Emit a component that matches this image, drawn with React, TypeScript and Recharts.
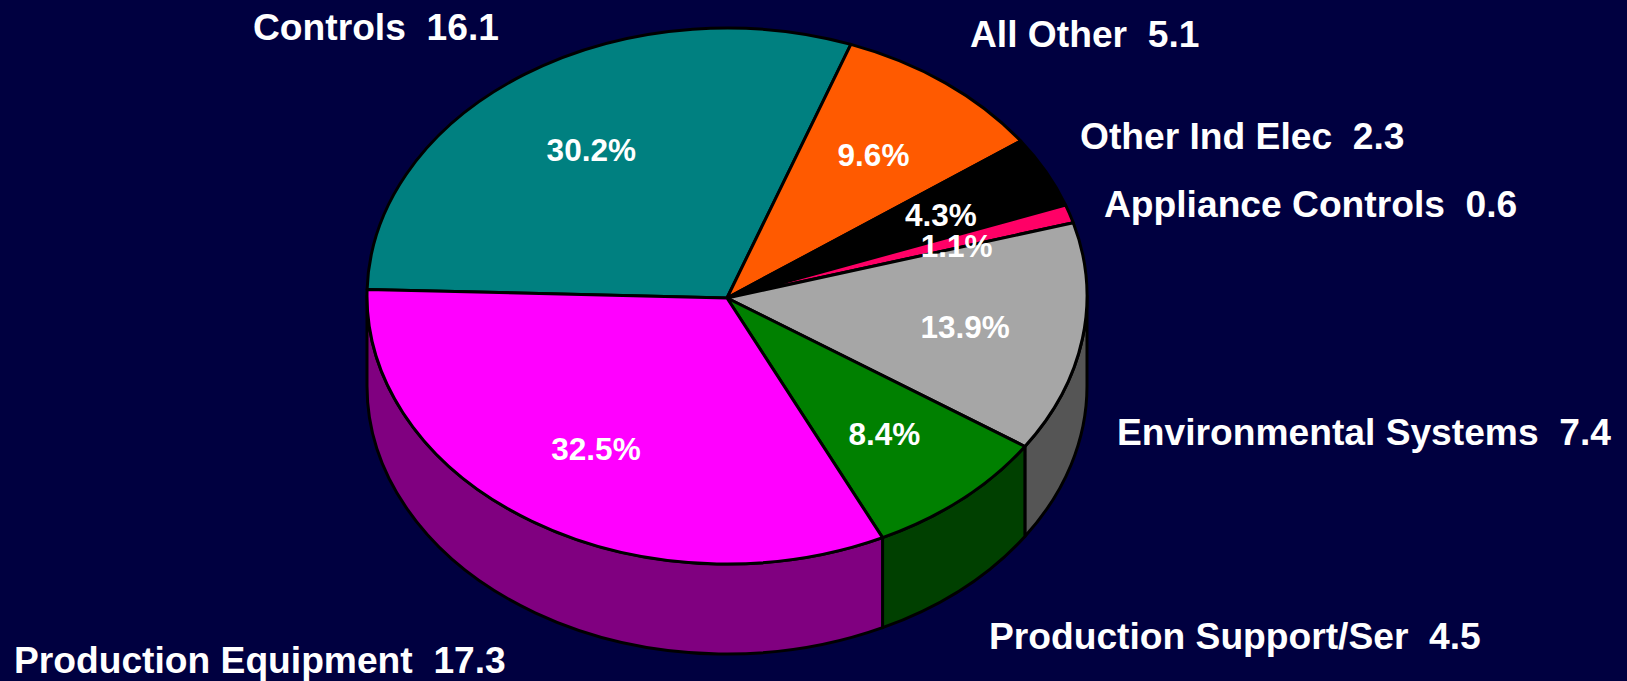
import { PieChart, Pie } from 'recharts';

const names = [
  'Controls',
  'All Other',
  'Other Ind Elec',
  'Appliance Controls',
  'Environmental Systems',
  'Production Support/Ser',
  'Production Equipment',
];
const amounts = ['16.1', '5.1', '2.3', '0.6', '7.4', '4.5', '17.3'];
const shares = [30.2, 9.6, 4.3, 1.1, 13.9, 8.4, 32.5];
const topColors = ['#008080', '#FF5A00', '#000000', '#FF0066', '#A6A6A6', '#008000', '#FF00FF'];
const sideColors = ['#004040', '#802D00', '#000000', '#800033', '#555555', '#004000', '#800080'];

// where each outer label starts (x, baseline)
const labelAnchors = [
  [253, 40],
  [970, 47],
  [1080, 149],
  [1104, 217],
  [1117, 445],
  [989, 649],
  [14, 673],
];
// the percent labels sit on one ring, except 1.1% which is a bit lower
const percentNudge = [0, 0, 0, 3, 0, 0, 0];

const WIDTH = 1627;
const HEIGHT = 681;
const CX = 727;
const CY = 296;
const RX = 360;
const RY = 268;
const DEPTH = 90;
const APEX_DY = 2;
const START = 178.6;
const RAD = Math.PI / 180;

const topRows = names.map((name, i) => ({ name, share: shares[i], fill: topColors[i] }));
const sideRows = names.map((name, i) => ({ name, share: shares[i], fill: sideColors[i] }));

const pt = (cx: number, cy: number, rx: number, ry: number, a: number) =>
  `${(cx + rx * Math.cos(a * RAD)).toFixed(2)} ${(cy - ry * Math.sin(a * RAD)).toFixed(2)}`;

// recharts hands us a circular sector, the tilt is done by squashing y
function TopSlice(props: any) {
  const { cx, cy, outerRadius, startAngle, endAngle, fill } = props;
  const ry = (outerRadius * RY) / RX;
  const large = Math.abs(startAngle - endAngle) > 180 ? 1 : 0;
  const d =
    `M ${cx} ${cy + APEX_DY} L ${pt(cx, cy, outerRadius, ry, startAngle)} ` +
    `A ${outerRadius} ${ry} 0 ${large} 1 ${pt(cx, cy, outerRadius, ry, endAngle)} Z`;
  return <path d={d} fill={fill} stroke="#000" strokeWidth={3} strokeLinejoin="round" />;
}

// rim of the disc, only the part of a slice facing the viewer
function SideSlice(props: any) {
  const { cx, cy, outerRadius, startAngle, endAngle, fill } = props;
  const ry = (outerRadius * RY) / RX;
  const from = Math.min(startAngle, 0);
  const to = Math.max(endAngle, -180);
  if (from <= to) return null;
  const large = from - to > 180 ? 1 : 0;
  const d =
    `M ${pt(cx, cy, outerRadius, ry, from)} ` +
    `A ${outerRadius} ${ry} 0 ${large} 1 ${pt(cx, cy, outerRadius, ry, to)} ` +
    `L ${pt(cx, cy + DEPTH, outerRadius, ry, to)} ` +
    `A ${outerRadius} ${ry} 0 ${large} 0 ${pt(cx, cy + DEPTH, outerRadius, ry, from)} Z`;
  return <path d={d} fill={fill} stroke="#000" strokeWidth={3} strokeLinejoin="round" />;
}

function SliceLabels(props: any) {
  const { cx, cy, outerRadius, midAngle, index } = props;
  const ry = (outerRadius * RY) / RX;
  const x = cx + 0.67 * outerRadius * Math.cos(midAngle * RAD);
  const y = cy + APEX_DY - 0.67 * ry * Math.sin(midAngle * RAD);
  const [ax, ay] = labelAnchors[index];
  return (
    <g fontFamily="'Liberation Sans', Arial, sans-serif" fontWeight={700} fill="#fff">
      <text x={x} y={y + 11 + percentNudge[index]} fontSize={31.5} textAnchor="middle" stroke="none">
        {shares[index].toFixed(1)}%
      </text>
      <text x={ax} y={ay} fontSize={37.2} stroke="none" style={{ whiteSpace: 'pre' }}>
        {`${names[index]}  ${amounts[index]}`}
      </text>
    </g>
  );
}

export default function App() {
  return (
    <div
      style={{
        position: 'absolute',
        left: 0,
        top: 0,
        width: WIDTH,
        height: HEIGHT,
        overflow: 'hidden',
        background: '#000040',
      }}
    >
      <PieChart width={WIDTH} height={HEIGHT} margin={{ top: 0, right: 0, bottom: 0, left: 0 }}>
        <Pie
          data={sideRows}
          dataKey="share"
          cx={CX}
          cy={CY}
          outerRadius={RX}
          startAngle={START}
          endAngle={START - 360}
          shape={SideSlice}
          isAnimationActive={false}
        />
        <Pie
          data={topRows}
          dataKey="share"
          cx={CX}
          cy={CY}
          outerRadius={RX}
          startAngle={START}
          endAngle={START - 360}
          shape={TopSlice}
          label={SliceLabels}
          labelLine={false}
          isAnimationActive={false}
        />
      </PieChart>
    </div>
  );
}
